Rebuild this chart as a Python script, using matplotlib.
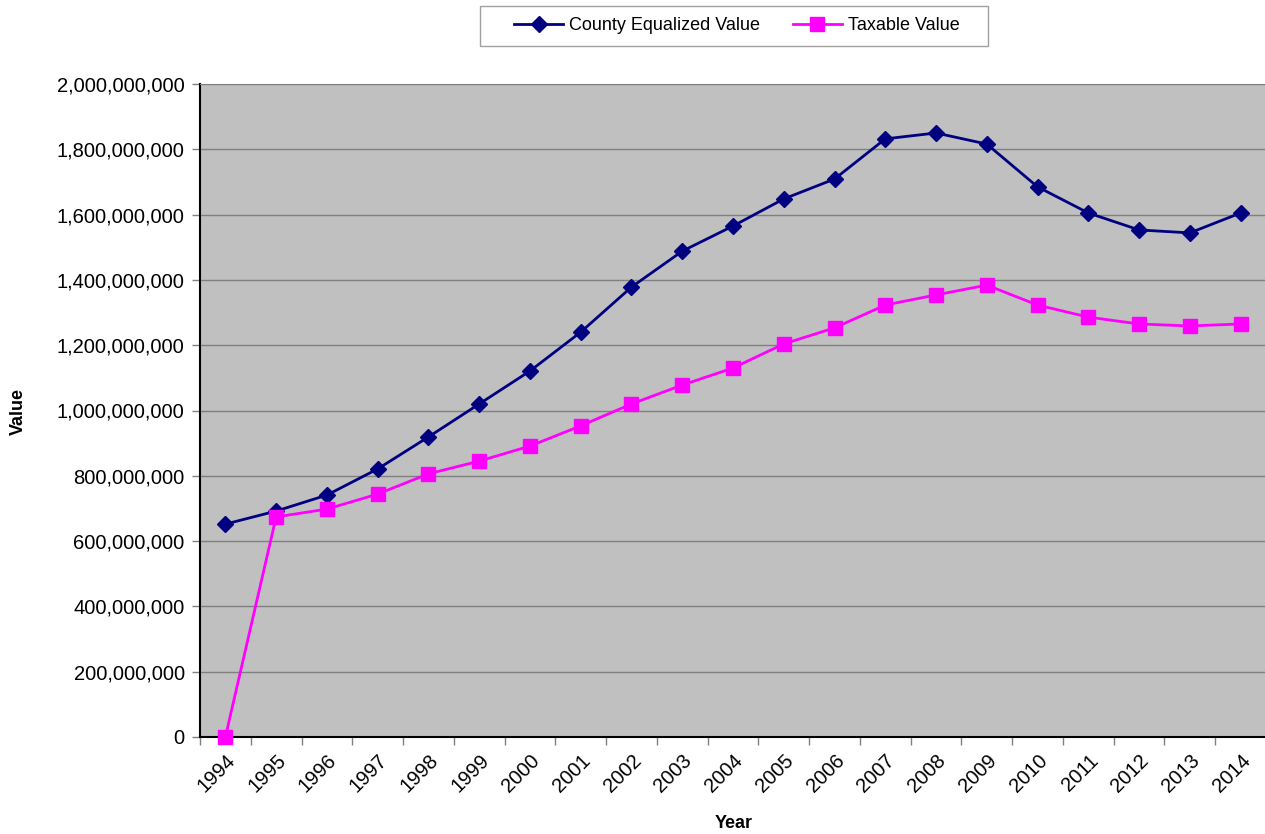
import matplotlib
matplotlib.use('Agg')
import matplotlib.pyplot as plt
from matplotlib.patches import Rectangle
from matplotlib.ticker import FuncFormatter, MultipleLocator

plt.rcParams['font.family'] = ['Liberation Sans', 'DejaVu Sans']

years = [str(y) for y in range(1994, 2015)]

county_equalized = [652e6, 692e6, 741e6, 821e6, 919e6, 1020e6, 1121e6, 1240e6,
                    1378e6, 1488e6, 1565e6, 1648e6, 1709e6, 1832e6, 1850e6,
                    1816e6, 1685e6, 1605e6, 1553e6, 1544e6, 1605e6]

taxable = [0, 674e6, 698e6, 744e6, 806e6, 845e6, 891e6, 953e6, 1020e6,
           1078e6, 1130e6, 1204e6, 1253e6, 1323e6, 1354e6, 1384e6, 1323e6,
           1286e6, 1265e6, 1259e6, 1265e6]

W, H = 1265, 834
fig = plt.figure(figsize=(W / 100, H / 100), dpi=100)
ax = fig.add_axes([200 / W, 97 / H, 1066 / W, 653 / H])
ax.set_facecolor('#C0C0C0')

x = list(range(len(years)))
ax.plot(x, county_equalized, color='#000080', lw=2, marker='D', ms=8,
        label='County Equalized Value', clip_on=False, zorder=3)
ax.plot(x, taxable, color='#FF00FF', lw=2, marker='s', ms=10,
        label='Taxable Value', clip_on=False, zorder=3)

ax.set_xlim(-0.5, len(years) - 0.5)
ax.set_ylim(0, 2e9)
ax.yaxis.set_major_locator(MultipleLocator(2e8))
ax.yaxis.set_major_formatter(FuncFormatter(lambda v, p: f'{v:,.0f}'))
ax.grid(axis='y', color='#808080', lw=1)
ax.set_axisbelow(True)

# category labels at centers, tick marks at boundaries (Excel style)
ax.set_xticks(x)
ax.set_xticklabels(years, rotation=45, ha='right', va='top',
                   rotation_mode='anchor', fontsize=14.5)
ax.set_xticks([i - 0.5 for i in range(len(years) + 1)], minor=True)
ax.tick_params(axis='x', which='major', length=0, pad=10)
ax.tick_params(axis='x', which='minor', length=6, color='#808080', width=1)
ax.tick_params(axis='y', length=6, color='#808080', width=1, labelsize=14.5, pad=5)

for side in ['left', 'bottom']:
    ax.spines[side].set_color('black')
    ax.spines[side].set_linewidth(1.5)
ax.spines['top'].set_color('#808080')
ax.spines['right'].set_visible(False)

fig.text(18 / W, 1 - 411 / H, 'Value', rotation=90, ha='center', va='center',
         fontsize=13, fontweight='bold')
fig.text(734 / W, 1 - 824 / H, 'Year', ha='center', va='center',
         fontsize=13, fontweight='bold')

# legend box drawn separately so the padding can match the original
fig.patches.append(Rectangle((480 / W, 1 - 46 / H), 508 / W, 40 / H,
                             transform=fig.transFigure, fill=False,
                             edgecolor='#A0A0A0', lw=1))
fig.legend(loc='center', bbox_to_anchor=(737 / W, 1 - 26 / H), ncol=2,
           fontsize=13, frameon=False, handlelength=2.7, handletextpad=0.35,
           columnspacing=1.8, borderaxespad=0)

fig.savefig('out.png', dpi=100)
